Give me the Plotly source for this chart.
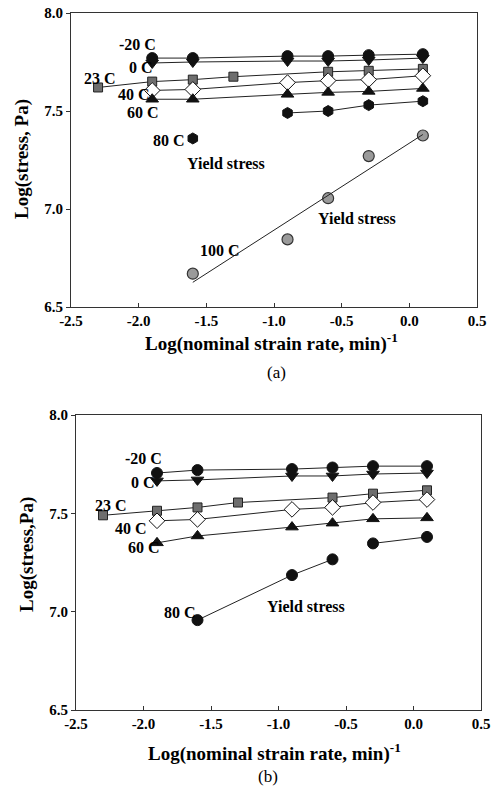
import numpy as np
import plotly.graph_objects as go

# ---------------- data ----------------
x_std = [-1.9, -1.6, -0.9, -0.6, -0.3, 0.1]
x_23 = [-2.3, -1.9, -1.6, -1.3, -0.6, -0.3, 0.1]
x_100 = [-1.6, -0.9, -0.6, -0.3, 0.1]
x_80a = [-1.6, None, -0.9, -0.6, -0.3, 0.1]
x_80b = [-1.6, -0.9, -0.6, None, -0.3, 0.1]

# panel (a)
a_m20 = [7.77, 7.77, 7.78, 7.78, 7.785, 7.79]
a_0 = [7.745, 7.75, 7.755, 7.755, 7.76, 7.77]
a_23 = [7.62, 7.65, 7.66, 7.675, 7.70, 7.705, 7.715]
a_40 = [7.605, 7.61, 7.645, 7.655, 7.66, 7.68]
a_60 = [7.56, 7.56, 7.585, 7.595, 7.60, 7.615]
a_80 = [7.36, None, 7.49, 7.50, 7.53, 7.55]
a_100 = [6.67, 6.845, 7.055, 7.27, 7.375]

# panel (b)
b_m20 = [7.705, 7.72, 7.725, 7.733, 7.74, 7.74]
b_0 = [7.665, 7.67, 7.69, 7.69, 7.70, 7.705]
b_23 = [7.49, 7.513, 7.53, 7.555, 7.58, 7.60, 7.617]
b_40 = [7.462, 7.469, 7.52, 7.53, 7.555, 7.57]
b_60 = [7.35, 7.385, 7.43, 7.45, 7.472, 7.477]
b_80 = [6.957, 7.186, 7.266, None, 7.347, 7.38]

x_tickvals = [-2.5, -2.0, -1.5, -1.0, -0.5, 0.0, 0.5]
x_ticktext = ["-2.5", "-2.0", "-1.5", "-1.0", "-0.5", "0.0", "0.5"]
y_tickvals = [6.5, 7.0, 7.5, 8.0]
y_ticktext = ["6.5", "7.0", "7.5", "8.0"]

FONT = "Liberation Serif"
W, H = 496, 786

fig = go.Figure()

def add(x, y, symbol, fill, size, xa, ya, outline="#111111"):
    fig.add_trace(go.Scatter(
        x=x, y=y, mode="lines+markers", xaxis=xa, yaxis=ya,
        line=dict(color="#222222", width=1), connectgaps=False,
        marker=dict(symbol=symbol, color=fill, size=size,
                    line=dict(color=outline, width=1)),
        showlegend=False))

# panel (a)
add(x_std, a_0, "triangle-down", "#111111", 11, "x", "y")
add(x_std, a_m20, "circle", "#111111", 11, "x", "y")
add(x_23, a_23, "square", "#6e6e6e", 9, "x", "y", "#222222")
add(x_std, a_40, "diamond", "white", 12, "x", "y")
add(x_std, a_60, "triangle-up", "#111111", 11, "x", "y")
add(x_80a, a_80, "hexagon", "#111111", 11, "x", "y")
# 100 C: points plus linear fit
fig.add_trace(go.Scatter(x=x_100, y=a_100, mode="markers", xaxis="x", yaxis="y",
                         marker=dict(symbol="circle", color="#9a9a9a", size=11,
                                     line=dict(color="#333333", width=1.2)),
                         showlegend=False))
k, b0 = np.polyfit(x_100, a_100, 1)
fx = [min(x_100), max(x_100)]
fig.add_trace(go.Scatter(x=fx, y=[k * v + b0 for v in fx], mode="lines",
                         xaxis="x", yaxis="y", line=dict(color="#222222", width=1),
                         showlegend=False))

# panel (b)
add(x_std, b_0, "triangle-down", "#111111", 11, "x2", "y2")
add(x_std, b_m20, "circle", "#111111", 11, "x2", "y2")
add(x_23, b_23, "square", "#6e6e6e", 9, "x2", "y2", "#222222")
add(x_std, b_40, "diamond", "white", 12, "x2", "y2")
add(x_std, b_60, "triangle-up", "#111111", 11, "x2", "y2")
add(x_80b, b_80, "circle", "#111111", 11, "x2", "y2")

axis_common = dict(
    showline=True, mirror=True, linecolor="#333333", linewidth=1,
    showgrid=False, zeroline=False, ticklen=4, tickcolor="#333333",
    tickfont=dict(family=FONT, size=15, color="black", weight="bold"),
)

def xdom(l, r):
    return [l / W, r / W]

def ydom(top, bot):
    return [1 - bot / H, 1 - top / H]

fig.update_layout(
    width=W, height=H, margin=dict(l=0, r=0, t=0, b=0),
    template="none", paper_bgcolor="white", plot_bgcolor="white",
    xaxis=dict(domain=xdom(71, 477), range=[-2.5, 0.5], anchor="y",
               tickvals=x_tickvals, ticktext=x_ticktext, ticks="inside", **axis_common),
    yaxis=dict(domain=ydom(13, 307), range=[6.5, 8.0], anchor="x",
               tickvals=y_tickvals, ticktext=y_ticktext, ticks="outside", **axis_common),
    xaxis2=dict(domain=xdom(76, 481), range=[-2.5, 0.5], anchor="y2",
                tickvals=x_tickvals, ticktext=x_ticktext, ticks="inside", **axis_common),
    yaxis2=dict(domain=ydom(415, 710), range=[6.5, 8.0], anchor="x2",
                tickvals=y_tickvals, ticktext=y_ticktext, ticks="outside", **axis_common),
)

lab_font = dict(family=FONT, size=16, color="black", weight="bold")
labels_a = [("-20 C", -2.01, 7.837), ("0 C", -1.98, 7.72), ("23 C", -2.285, 7.668),
            ("40 C", -2.033, 7.582), ("60 C", -1.967, 7.49), ("80 C", -1.774, 7.352),
            ("Yield stress", -1.352, 7.23), ("Yield stress", -0.389, 6.954),
            ("100 C", -1.396, 6.786)]
labels_b = [("-20 C", -2.003, 7.781), ("0 C", -2.003, 7.659), ("23 C", -2.24, 7.542),
            ("40 C", -2.09, 7.425), ("60 C", -2.0, 7.328), ("80 C", -1.728, 6.997),
            ("Yield stress", -0.80, 7.028)]
for t, xx, yy in labels_a:
    fig.add_annotation(text=t, x=xx, y=yy, xref="x", yref="y", showarrow=False, font=lab_font)
for t, xx, yy in labels_b:
    fig.add_annotation(text=t, x=xx, y=yy, xref="x2", yref="y2", showarrow=False, font=lab_font)

title_font = dict(family=FONT, size=19, color="black", weight="bold")
xtitle = "Log(nominal strain rate, min)<sup>-1</sup>"
for (cx, cy, txt, ang, fnt) in [
        (271, 343, xtitle, 0, title_font),
        (276, 372, "(a)", 0, dict(family=FONT, size=17, color="black")),
        (22, 159, "Log(stress, Pa)", -90, title_font),
        (274, 752, xtitle, 0, title_font),
        (268, 776, "(b)", 0, dict(family=FONT, size=17, color="black")),
        (27, 555, "Log(stress,Pa)", -90, title_font)]:
    fig.add_annotation(text=txt, x=cx / W, y=1 - cy / H, xref="paper", yref="paper",
                       showarrow=False, textangle=ang, font=fnt,
                       xanchor="center", yanchor="middle")

fig.write_html("out.html")
